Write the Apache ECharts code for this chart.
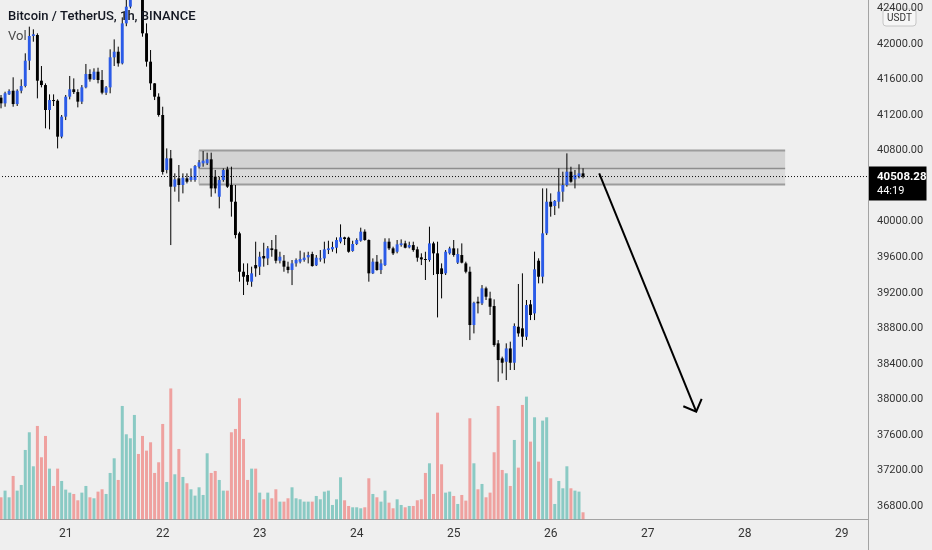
<!DOCTYPE html>
<html>
<head>
<meta charset="utf-8">
<script src="https://cdn.jsdelivr.net/npm/echarts@6/dist/echarts.min.js"></script>
<style>
html,body{margin:0;padding:0;background:#efefef;}
#chart{width:932px;height:550px;}
</style>
</head>
<body>
<div id="chart"></div>
<script>
// ---- data (BTC/USDT, 1h candles from 20th 08:00) ----
const days = ['20','21','22','23','24','25','26','27','28','29'];
const firstHour = 8;
const slotCount = 215;

const opens = [41396,41332,41433,41474,41324,41474,41527,41812,42090,42101,41587,41538,41257,41369,41362,40957,41182,41407,41490,41459,41351,41512,41662,41602,41688,41595,41452,41512,41850,41913,41782,42232,42420,42560,42680,42600,42120,41801,41557,41407,41201,40582,40713,40394,40488,40413,40488,40469,40469,40619,40657,40657,40702,40507,40281,40469,40589,40413,40225,39869,39437,39400,39325,39512,39494,39614,39587,39700,39689,39561,39561,39494,39456,39531,39550,39569,39599,39636,39509,39584,39587,39681,39689,39707,39775,39824,39820,39670,39749,39786,39888,39794,39419,39550,39456,39512,39775,39700,39662,39737,39756,39711,39737,39689,39599,39580,39569,39756,39644,39475,39419,39644,39700,39539,39625,39531,39437,38837,39100,39081,39250,39137,39051,38631,38462,38424,38574,38413,38818,38800,38706,39070,38968,39561,39381,39869,40225,40177,40225,40338,40413,40563,40477,40507,40544];
const highs = [41426,41463,41490,41625,41490,41602,41895,42195,42165,42120,41752,41557,41433,41433,41377,41201,41426,41640,41613,41490,41538,41775,41715,41726,41733,41707,41527,41940,42052,41970,42300,42500,42620,42780,42720,42650,42232,41932,41560,41445,41294,40825,40807,40544,40638,40544,40544,40600,40638,40694,40795,40777,40777,40582,40507,40600,40619,40619,40413,39887,39531,39531,39494,39775,39662,39763,39726,39794,39850,39662,39625,39550,39569,39587,39674,39655,39662,39662,39625,39681,39775,39786,39775,39824,39970,39831,39831,39786,39813,39933,39914,39801,39587,39625,39576,39813,39813,39719,39794,39801,39786,39775,39775,39719,39644,39662,39944,39775,39775,39531,39681,39719,39794,39700,39756,39550,39494,39100,39156,39287,39269,39212,39126,38668,38481,38631,38650,38856,39299,39419,39119,39119,39663,39588,40375,40375,40319,40244,40601,40563,40769,40619,40582,40646,40601];
const lows = [41276,41294,41426,41294,41302,41445,41512,41707,42026,41388,41512,41051,41039,41302,40825,40938,41144,41377,41437,41287,41324,41501,41576,41595,41557,41433,41426,41445,41752,41745,41770,42200,42400,42520,42520,42082,41745,41482,41369,41182,40530,40544,39737,40338,40225,40319,40431,40450,40450,40600,40619,40638,40281,40319,40150,40450,40380,40057,39812,39325,39175,39287,39268,39381,39400,39494,39512,39606,39531,39531,39437,39419,39287,39494,39531,39550,39531,39494,39501,39550,39531,39636,39662,39644,39756,39737,39651,39662,39737,39775,39786,39325,39411,39449,39411,39501,39681,39625,39644,39719,39700,39700,39662,39550,39512,39344,39550,39400,38923,39137,39400,39630,39606,39524,39531,39419,38668,38743,38968,39062,39119,38950,38593,38199,38293,38218,38331,38331,38706,38593,38668,38893,38893,39306,39306,39850,40057,40075,40150,40225,40394,40439,40375,40488,40488];
const closes = [41332,41445,41471,41324,41474,41527,41812,42090,42109,41587,41538,41257,41369,41362,40957,41182,41407,41490,41459,41351,41512,41662,41602,41688,41595,41452,41512,41850,41913,41782,42232,42420,42560,42680,42600,42120,41801,41557,41407,41201,40560,40713,40394,40476,40413,40495,40450,40507,40627,40668,40687,40702,40375,40375,40469,40582,40394,40225,39850,39437,39381,39325,39419,39475,39606,39587,39700,39681,39561,39606,39494,39456,39531,39569,39580,39595,39625,39501,39595,39587,39689,39700,39715,39794,39824,39805,39662,39749,39794,39888,39794,39419,39550,39456,39531,39775,39700,39644,39745,39756,39707,39737,39681,39595,39576,39569,39756,39644,39411,39411,39662,39700,39625,39636,39539,39437,38837,39088,39081,39250,39156,39043,38612,38443,38413,38574,38413,38826,38743,38706,39062,38950,39464,39381,39869,40225,40169,40233,40338,40413,40563,40450,40526,40544,40508.28];
const volumes = [528,688,528,1040,688,824,1664,2088,1272,2240,1488,2000,1216,800,1216,920,712,640,608,456,640,800,528,504,664,720,608,1112,1464,944,2720,2040,1944,2504,1568,2000,1648,1848,1112,1368,2288,896,3140,1080,1688,1016,864,720,568,768,584,1584,1112,1160,944,688,688,2088,2168,2904,1928,944,1216,1216,640,480,640,504,720,424,424,504,768,504,480,424,424,424,560,480,664,688,344,480,1008,456,320,288,288,264,288,984,608,528,424,688,400,264,480,344,288,320,320,456,480,1112,1344,608,2560,1320,640,664,560,368,584,448,2424,1344,720,848,528,640,1608,2720,1184,1104,800,1904,1240,2744,2944,1864,2448,1384,2368,2448,984,368,920,744,1272,744,688,664,168];

const priceTicks = [36800,37200,37600,38000,38400,38800,39200,39600,40000,40400,40800,41200,41600,42000,42400];
const lastPrice = 40508.28;
const countdown = '44:19';
const zoneX = [49, 193.5];
const zonePrices = [40800, 40600, 40420];
const arrowFrom = [147.7, 40545];
const arrowTo = [171.6, 37862];

// ---- build ----
const categories = [];
for (let k = 0; k < slotCount; k++) {
  const t = firstHour + k;
  const d = days[Math.floor(t / 24)];
  const h = t % 24;
  categories.push(d + ' ' + (h < 10 ? '0' + h : h) + ':00');
}
const candleData = opens.map((o, i) => [i, o, closes[i], lows[i], highs[i]]);
const UP = '#2b5be8', DOWN = '#000000';
const volData = volumes.map((v, i) => ({
  value: v,
  itemStyle: { color: closes[i] >= opens[i] ? 'rgba(38,166,154,0.5)' : 'rgba(239,83,80,0.5)' }
}));

const chart = echarts.init(document.getElementById('chart'));
const FONT = 'Roboto, "Liberation Sans", sans-serif';

chart.setOption({
  backgroundColor: '#efefef',
  animation: false,
  title: [
    { text: 'Bitcoin / TetherUS, 1h, BINANCE', left: 8, top: 10, padding: 0,
      textStyle: { fontFamily: FONT, fontSize: 13, fontWeight: 500, color: '#131722' } },
    { text: 'Vol', left: 8, top: 30, padding: 0,
      textStyle: { fontFamily: FONT, fontSize: 13, fontWeight: 'normal', color: '#4a4a4a' } }
  ],
  grid: [
    { left: -1, right: 64, top: -27.1, height: 568.7, outerBoundsMode: 'none', containLabel: false },
    { left: -1, right: 64, top: 380, height: 139.3, outerBoundsMode: 'none', containLabel: false }
  ],
  xAxis: [
    { type: 'category', gridIndex: 0, data: categories, show: false },
    { type: 'category', gridIndex: 1, data: categories,
      axisLine: { show: true, lineStyle: { color: '#a3a3a3', width: 1 } },
      axisTick: { show: false },
      axisLabel: {
        interval: (idx, v) => v.endsWith(' 00:00'),
        formatter: v => v.split(' ')[0],
        fontFamily: FONT, fontSize: 12, color: '#333', margin: 9
      } }
  ],
  yAxis: [
    { type: 'value', gridIndex: 0, position: 'right', min: 36400, max: 42800, interval: 400,
      splitLine: { show: false }, axisLine: { show: false }, axisTick: { show: false },
      axisLabel: {
        margin: 9, fontFamily: FONT, fontSize: 11, color: '#333',
        formatter: v => priceTicks.indexOf(v) >= 0 ? v.toFixed(2) : ''
      } },
    { type: 'value', gridIndex: 1, min: 0, max: 3343, show: false, splitLine: { show: false } }
  ],
  series: [
    { type: 'bar', xAxisIndex: 1, yAxisIndex: 1, data: volData, barWidth: '74%', silent: true, z: 1 },
    { type: 'custom', xAxisIndex: 0, yAxisIndex: 0, data: [[0]], silent: true, z: 2,
      renderItem: (params, api) => {
        const a = api.coord([zoneX[0], zonePrices[0]]);
        const b = api.coord([zoneX[1], zonePrices[1]]);
        const c = api.coord([zoneX[1], zonePrices[2]]);
        const x0 = a[0], x1 = b[0];
        return { type: 'group', children: [
          { type: 'rect', shape: { x: x0, y: a[1], width: x1 - x0, height: b[1] - a[1] }, style: { fill: '#d3d3d3' } },
          { type: 'rect', shape: { x: x0, y: b[1], width: x1 - x0, height: c[1] - b[1] }, style: { fill: '#dadada' } },
          { type: 'line', shape: { x1: x0, y1: a[1], x2: x1, y2: a[1] }, style: { stroke: '#9c9c9c', lineWidth: 2 } },
          { type: 'line', shape: { x1: x0, y1: b[1], x2: x1, y2: b[1] }, style: { stroke: '#8e8e8e', lineWidth: 1.5 } },
          { type: 'line', shape: { x1: x0, y1: c[1], x2: x1, y2: c[1] }, style: { stroke: '#9c9c9c', lineWidth: 2 } },
          { type: 'line', shape: { x1: x0, y1: a[1], x2: x0, y2: c[1] }, style: { stroke: '#b5b5b5', lineWidth: 1 } }
        ] };
      } },
    { type: 'custom', xAxisIndex: 0, yAxisIndex: 0, data: candleData, silent: true, z: 3,
      encode: { x: 0, y: [1, 2, 3, 4] },
      renderItem: (params, api) => {
        const i = api.value(0), o = api.value(1), c = api.value(2), l = api.value(3), h = api.value(4);
        const po = api.coord([i, o]), pc = api.coord([i, c]);
        const pl = api.coord([i, l]), ph = api.coord([i, h]);
        const bw = api.size([1, 0])[0] * 0.72;
        const x = po[0];
        const up = c >= o;
        const top = Math.min(po[1], pc[1]);
        const hgt = Math.max(1, Math.abs(po[1] - pc[1]));
        return { type: 'group', children: [
          { type: 'line', shape: { x1: x, y1: ph[1], x2: x, y2: pl[1] }, style: { stroke: '#000', lineWidth: 1 } },
          { type: 'rect', shape: { x: x - bw / 2, y: top, width: bw, height: hgt }, style: { fill: up ? UP : DOWN } }
        ] };
      } },
    { type: 'custom', xAxisIndex: 0, yAxisIndex: 0, data: [[0]], silent: true, z: 4,
      renderItem: (params, api) => {
        const cs = params.coordSys;
        const py = api.coord([0, lastPrice])[1];
        const s = api.coord(arrowFrom), e = api.coord(arrowTo);
        const dx = s[0] - e[0], dy = s[1] - e[1];
        const len = Math.sqrt(dx * dx + dy * dy);
        const ux = dx / len, uy = dy / len;
        const arm = 14, ang = Math.PI / 4;
        const rot = (t) => [e[0] + arm * (ux * Math.cos(t) - uy * Math.sin(t)), e[1] + arm * (ux * Math.sin(t) + uy * Math.cos(t))];
        const l1 = rot(ang), l2 = rot(-ang);
        const rx = cs.x + cs.width;
        return { type: 'group', children: [
          { type: 'line', shape: { x1: cs.x, y1: py, x2: rx, y2: py }, style: { stroke: '#111', lineWidth: 1, lineDash: [1, 2] } },
          { type: 'line', shape: { x1: s[0], y1: s[1], x2: e[0], y2: e[1] }, style: { stroke: '#000', lineWidth: 2 } },
          { type: 'polyline', shape: { points: [l1, e, l2] }, style: { stroke: '#000', lineWidth: 2, fill: null } },
          { type: 'rect', shape: { x: rx + 0.5, y: py - 10, width: 58, height: 34 }, style: { fill: '#000' } },
          { type: 'text', x: rx + 9, y: py + 1, style: { text: lastPrice.toFixed(2), fill: '#fff', font: 'bold 11.5px ' + FONT, verticalAlign: 'middle' } },
          { type: 'text', x: rx + 9, y: py + 15, style: { text: countdown, fill: '#fff', font: '11px ' + FONT, verticalAlign: 'middle' } }
        ] };
      } }
  ],
  graphic: [
    { type: 'line', shape: { x1: 868.5, y1: 0, x2: 868.5, y2: 550 }, style: { stroke: '#a3a3a3', lineWidth: 1 }, z: 10 },
    { type: 'group', x: 883, y: 9, z: 10, children: [
      { type: 'rect', shape: { x: 0, y: 0, width: 33, height: 17, r: 3 }, style: { fill: '#f6f6f6', stroke: '#c6c6c6', lineWidth: 1 } },
      { type: 'text', x: 16.5, y: 9, style: { text: 'USDT', fill: '#333', font: '10px ' + FONT, align: 'center', verticalAlign: 'middle' } }
    ] }
  ]
});
</script>
</body>
</html>
